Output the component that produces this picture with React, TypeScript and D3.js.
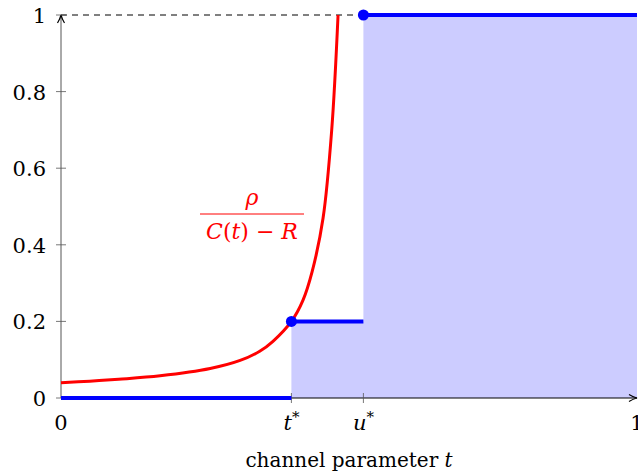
import { useEffect, useRef } from 'react'
import * as d3 from 'd3'

// values
const tStar = 0.4
const uStar = 0.525
const curveT = [0, 0.05, 0.1, 0.172, 0.259, 0.311, 0.345, 0.368, 0.4, 0.42, 0.436, 0.455, 0.47, 0.481]
const curveV = [0.04, 0.044, 0.049, 0.058, 0.077, 0.098, 0.122, 0.148, 0.2, 0.255, 0.33, 0.47, 0.7, 1.0]
const stepT = [0, tStar, tStar, uStar, uStar, 1]
const stepV = [0, 0, 0.2, 0.2, 1, 1]
const yTicks = [0, 0.2, 0.4, 0.6, 0.8, 1]
const xTicks = [0, tStar, uStar, 1]
const xTickLabels = ['0', 't*', 'u*', '1']

export default function App() {
  const svgRef = useRef<SVGSVGElement>(null)
  const width = 638
  const height = 473

  useEffect(() => {
    const svg = d3.select(svgRef.current)
    svg.selectAll('*').remove()

    const x = d3.scaleLinear().domain([0, 1]).range([61, 637])
    const y = d3.scaleLinear().domain([0, 1]).range([398, 15])
    const font = "'DejaVu Serif', serif"

    const defs = svg.append('defs')
    defs.append('marker')
      .attr('id', 'arr')
      .attr('viewBox', '0 0 10 10')
      .attr('refX', 9).attr('refY', 5)
      .attr('markerWidth', 10).attr('markerHeight', 10)
      .attr('markerUnits', 'userSpaceOnUse')
      .attr('orient', 'auto')
      .append('path')
      .attr('d', 'M1,1.5 Q5,4 9,5 Q5,6 1,8.5')
      .attr('fill', 'none').attr('stroke', '#000').attr('stroke-width', 1.2)

    // shaded region
    const area = d3.area<number>()
      .x((_, i) => x(stepT[i + 2]))
      .y0(y(0))
      .y1((_, i) => y(stepV[i + 2]))
    svg.append('path')
      .attr('d', area(stepT.slice(2)))
      .attr('fill', 'rgb(204,204,255)')

    // dashed line at 1
    svg.append('line')
      .attr('x1', x(0)).attr('x2', x(uStar))
      .attr('y1', y(1)).attr('y2', y(1))
      .attr('stroke', '#000').attr('stroke-width', 1)
      .attr('stroke-dasharray', '6,5')

    // axes
    svg.append('line')
      .attr('x1', x(0)).attr('x2', x(0))
      .attr('y1', y(0)).attr('y2', y(1))
      .attr('stroke', '#555').attr('stroke-width', 1)
      .attr('marker-end', 'url(#arr)')
    svg.append('line')
      .attr('x1', x(0)).attr('x2', x(1))
      .attr('y1', y(0)).attr('y2', y(0))
      .attr('stroke', '#000').attr('stroke-width', 1)
      .attr('marker-end', 'url(#arr)')

    yTicks.forEach(v => {
      svg.append('line')
        .attr('x1', x(0) - 5).attr('x2', x(0) + 5)
        .attr('y1', y(v)).attr('y2', y(v))
        .attr('stroke', '#555').attr('stroke-width', 0.8)
      svg.append('text')
        .attr('x', 46).attr('y', y(v) + 8)
        .attr('text-anchor', 'end')
        .attr('font-family', font).attr('font-size', 21)
        .text(String(v))
    })

    xTicks.forEach((v, i) => {
      if (i > 0 && i < 3) {
        svg.append('line')
          .attr('x1', x(v)).attr('x2', x(v))
          .attr('y1', y(0) - 5).attr('y2', y(0) + 5)
          .attr('stroke', '#555').attr('stroke-width', 0.8)
      }
      const lbl = xTickLabels[i]
      const t = svg.append('text')
        .attr('x', x(v)).attr('y', 430)
        .attr('text-anchor', 'middle')
        .attr('font-family', font).attr('font-size', 21)
      if (lbl.endsWith('*')) {
        t.append('tspan').attr('font-style', 'italic').text(lbl[0])
        t.append('tspan').attr('dy', -8).attr('font-size', 15).text('*')
      } else {
        t.text(lbl)
      }
    })

    const xl = svg.append('text')
      .attr('x', 349).attr('y', 467)
      .attr('text-anchor', 'middle')
      .attr('font-family', font).attr('font-size', 20)
    xl.append('tspan').text('channel parameter ')
    xl.append('tspan').attr('font-style', 'italic').text('t')

    // red curve
    const line = d3.line<number>()
      .x(d => x(d))
      .y((_, i) => y(curveV[i]))
      .curve(d3.curveCatmullRom.alpha(0.5))
    svg.append('path')
      .attr('d', line(curveT))
      .attr('fill', 'none').attr('stroke', 'red').attr('stroke-width', 3)

    // blue step segments
    const segs = [[0, 1], [2, 3], [4, 5]]
    segs.forEach(([a, b]) => {
      svg.append('line')
        .attr('x1', x(stepT[a])).attr('x2', x(stepT[b]))
        .attr('y1', y(stepV[a])).attr('y2', y(stepV[b]))
        .attr('stroke', 'blue').attr('stroke-width', 4)
    })
    ;[2, 4].forEach(i => {
      svg.append('circle')
        .attr('cx', x(stepT[i])).attr('cy', y(stepV[i]))
        .attr('r', 5.5).attr('fill', 'blue')
    })

    // red label
    const lx = 252
    svg.append('text')
      .attr('x', lx).attr('y', 205)
      .attr('text-anchor', 'middle')
      .attr('font-family', font).attr('font-size', 22)
      .attr('font-style', 'italic').attr('fill', 'red')
      .text('ρ')
    svg.append('line')
      .attr('x1', 200).attr('x2', 304)
      .attr('y1', 214).attr('y2', 214)
      .attr('stroke', 'red').attr('stroke-width', 1)
    const den = svg.append('text')
      .attr('x', lx).attr('y', 239)
      .attr('text-anchor', 'middle')
      .attr('font-family', font).attr('font-size', 22)
      .attr('fill', 'red')
    den.append('tspan').attr('font-style', 'italic').text('C')
    den.append('tspan').text('(')
    den.append('tspan').attr('font-style', 'italic').text('t')
    den.append('tspan').text(') − ')
    den.append('tspan').attr('font-style', 'italic').text('R')
  }, [])

  return (
    <svg
      ref={svgRef}
      width={width}
      height={height}
      style={{ position: 'absolute', left: 0, top: 0, background: '#fff' }}
    />
  )
}
